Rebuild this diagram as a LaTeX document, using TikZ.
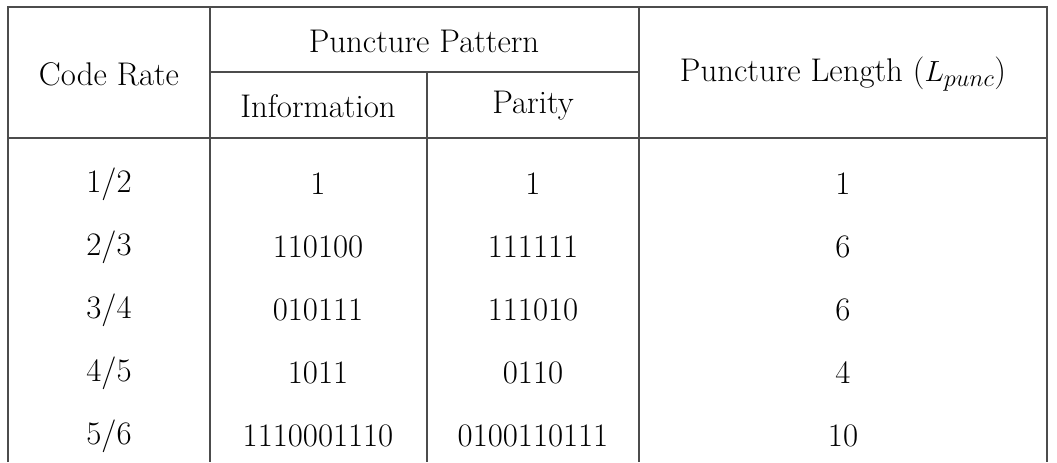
\documentclass[tikz,border=0pt]{standalone}
\usepackage{fontspec}

\begin{document}
\begin{tikzpicture}[x = 0.03cm, y = -0.03cm,
  cell/.style = {font = \fontsize{28}{32}\selectfont, inner sep = 0},
  rule/.style = {draw = black!70, line width = 1pt}]
  \useasboundingbox (0, 0) rectangle (1057, 462);

  % frame and rules
  \draw[rule] (8, 462) -- (8, 7) -- (1047, 7) -- (1047, 462);
  \foreach \x in {210, 639}{
    \draw[rule] (\x, 7) -- (\x, 462);
  }
  \draw[rule] (427, 72) -- (427, 462);
  \draw[rule] (210, 72) -- (639, 72);
  \draw[rule] (8, 138) -- (1047, 138);

  % header
  \node[cell] (rate) at (109, 74) {Code Rate};
  \node[cell] (pattern) at (424, 41) {Puncture Pattern};
  \node[cell] (info) at (318, 106) {Information};
  \node[cell] (parity) at (533, 106) {Parity};
  \node[cell] (length) at (843, 74) {Puncture Length ($L_{punc}$)};

  % body
  \foreach \a/\b/\i/\p/\l [count = \k] in {1/2/1/1/1, 2/3/110100/111111/6,
    3/4/010111/111010/6, 4/5/1011/0110/4, 5/6/1110001110/0100110111/10}{
    \pgfmathsetmacro{\yy}{121 + 63*\k}
    \node[cell] (rate\k) at (109, \yy) {\a/\b};
    \node[cell] (info\k) at (318, \yy) {\i};
    \node[cell] (parity\k) at (533, \yy) {\p};
    \node[cell] (length\k) at (843, \yy) {\l};
  }
\end{tikzpicture}
\end{document}
